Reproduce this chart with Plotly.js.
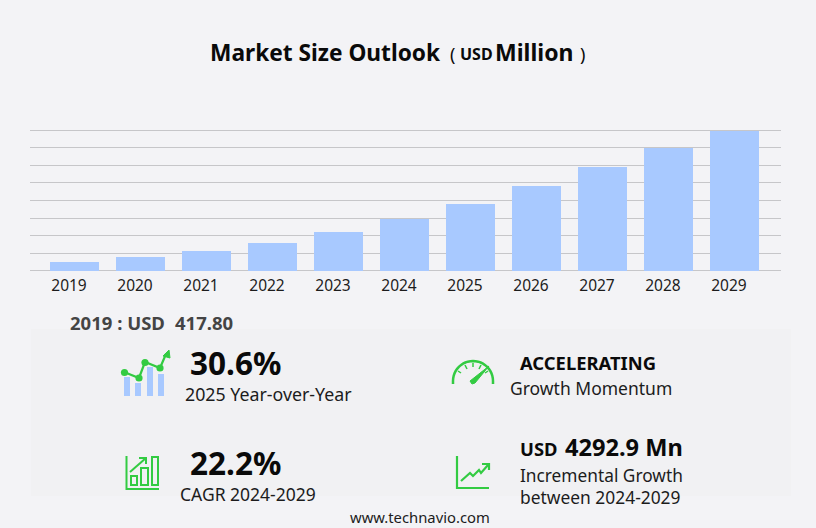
<!DOCTYPE html>
<html><head><meta charset="utf-8">
<script src="https://cdn.plot.ly/plotly-3.0.1.min.js"></script>
<style>html,body{margin:0;padding:0;background:#f3f3f6}</style></head>
<body><div id="chart" style="width:816px;height:528px"></div>
<script>
const years = [2019,2020,2021,2022,2023,2024,2025,2026,2027,2028,2029];
const marketSize = [417.8,642,932,1317,1848,2474,3231,4065,4982,5912,6767];
const gridValues = [0,846,1692,2538,3384,4230,5076,5922,6768];
const FONT = '"Noto Sans", "Open Sans", sans-serif';
const W = 816, H = 528;
const GREEN = '#33cb42', BLUE = '#a8c9ff';
const px = x => x / W, py = y => 1 - y / H;
const P = pts => pts.map((p,i) => (i ? 'L' : 'M') + px(p[0]) + ',' + py(p[1])).join(' ');

function label(x, y, text, size, color) {
  return {xref:'paper', yref:'paper', x:px(x), y:py(y), text:text, showarrow:false,
    xanchor:'left', yanchor:'middle', font:{family:FONT, size:size, color:color||'#1c1c1c'}, borderpad:0, borderwidth:0};
}
const b = s => '<b>' + s + '</b>';
const DK = '#0a0a0a';
const annotations = [
  label(210, 52, b('Market Size Outlook'), 22.7, DK),
  label(450, 54, '(', 18, DK),
  label(460, 54, b('USD'), 16, DK),
  label(495, 52, b('Million'), 23, DK),
  label(580, 54, ')', 18, DK),
  label(70, 322, b('2019 : USD'), 18.5, '#444444'),
  label(175, 322, b('417.80'), 18.5, '#444444'),
  label(190, 362, b('30.6%'), 31.5, DK),
  label(185, 394, '2025 Year-over-Year', 17.8),
  label(520, 362, b('ACCELERATING'), 18.4, DK),
  label(510, 388, 'Growth Momentum', 17.5),
  label(190, 462, b('22.2%'), 31.5, DK),
  label(180, 494, 'CAGR 2024-2029', 17.5),
  label(520, 448, b('USD'), 18.4, DK),
  label(565, 447, b('4292.9 Mn'), 23.6, DK),
  label(520, 475, 'Incremental Growth', 17.3),
  label(520, 497, 'between 2024-2029', 17.4),
  label(350, 517, 'www.technavio.com', 14.8)
];

const line = (pts, w, c) => ({type:'path', xref:'paper', yref:'paper', path:P(pts), line:{color:c||GREEN, width:w||2}, layer:'above'});
const poly = pts => ({type:'path', xref:'paper', yref:'paper', path:P(pts)+' Z', fillcolor:GREEN, line:{color:GREEN,width:1}, layer:'above'});
const rect = (x0,y0,x1,y1,fill,lineC,w) => ({type:'rect', xref:'paper', yref:'paper', x0:px(x0), x1:px(x1), y0:py(y0), y1:py(y1),
  fillcolor:fill||'rgba(0,0,0,0)', line:{color:lineC||'rgba(0,0,0,0)', width:w||0}, layer:'above'});
const dot = (x,y,r) => ({type:'circle', xref:'paper', yref:'paper', x0:px(x-r), x1:px(x+r), y0:py(y-r), y1:py(y+r),
  fillcolor:GREEN, line:{width:0}, layer:'above'});
function arc(cx, cy, r, a0, a1, n) {
  const out = [];
  for (let i = 0; i <= n; i++) { const a = (a0 + (a1-a0)*i/n) * Math.PI/180; out.push([cx + r*Math.cos(a), cy - r*Math.sin(a)]); }
  return out;
}
const shapes = [
  {type:'rect', xref:'paper', yref:'paper', x0:px(31), x1:px(791), y0:py(329), y1:py(496), fillcolor:'#f1f1f3', line:{width:0}, layer:'below'},
  // trend icon
  rect(124,377,130,396,BLUE), rect(135,383,141,396,BLUE), rect(147,367,153,396,BLUE), rect(158,374,164,396,BLUE),
  line([[124,372],[139,378],[145,362],[160,368],[166,354]],2.2),
  dot(124.5,372.5,3.6), dot(139,378,3.6), dot(145,362.5,3.6), dot(160,368,3.6),
  poly([[163,356],[169,350],[170,358]]),
  // gauge icon
  line([[453,384]].concat(arc(473,381,20,180,0,24)).concat([[493,384]]),2.5),
  line([[458,371],[461,373]],1.5), line([[465,365],[467,369]],1.5), line([[473,363],[473,367]],1.5),
  line([[481,365],[479,369]],1.5), line([[488,371],[485,373]],1.5),
  poly([[470,381],[472,384],[475,383],[489,366]]),
  // CAGR icon
  line([[126.5,456],[126.5,489],[159,489]],2),
  rect(131,476,137,485,null,GREEN,2), rect(141,468,148,485,null,GREEN,2), rect(152,457,158,485,null,GREEN,2),
  line([[130,472],[146,458]],2), line([[139,458],[146,458],[146,464]],2),
  // incremental icon
  line([[457,456],[457,488],[489,488]],2.2),
  line([[461,481],[470,473],[473,476],[479,470],[481,473],[488,465]],2.2), line([[482,464],[489,464],[489,470]],2.2)
];

const trace = {type:'bar', x:years, y:marketSize, width:0.742, marker:{color:BLUE, line:{width:0}}, hoverinfo:'x+y'};
const layout = {
  width:W, height:H, margin:{l:0,r:0,t:0,b:0,pad:0}, autosize:false,
  paper_bgcolor:'#f3f3f6', plot_bgcolor:'rgba(0,0,0,0)', showlegend:false, bargap:0,
  xaxis:{domain:[30/W,781/W], range:[2018.326,2029.705], tickmode:'array', tickvals:years.map(v=>v-0.083), ticktext:years.map(String),
    ticks:'', showgrid:false, zeroline:false, showline:false, automargin:false, ticklabelstandoff:2,
    tickfont:{family:FONT,size:15.5,color:'#1c1c1c'}},
  yaxis:{domain:[1-272/H,1-129/H], range:[-72.5,6840], tickmode:'array', tickvals:gridValues, showticklabels:false,
    ticks:'', showgrid:true, gridcolor:'#c6c6c9', gridwidth:1, zeroline:false, showline:false, automargin:false},
  annotations:annotations, shapes:shapes
};
Plotly.newPlot('chart',[trace],layout,{displayModeBar:false,staticPlot:true});
</script></body></html>
